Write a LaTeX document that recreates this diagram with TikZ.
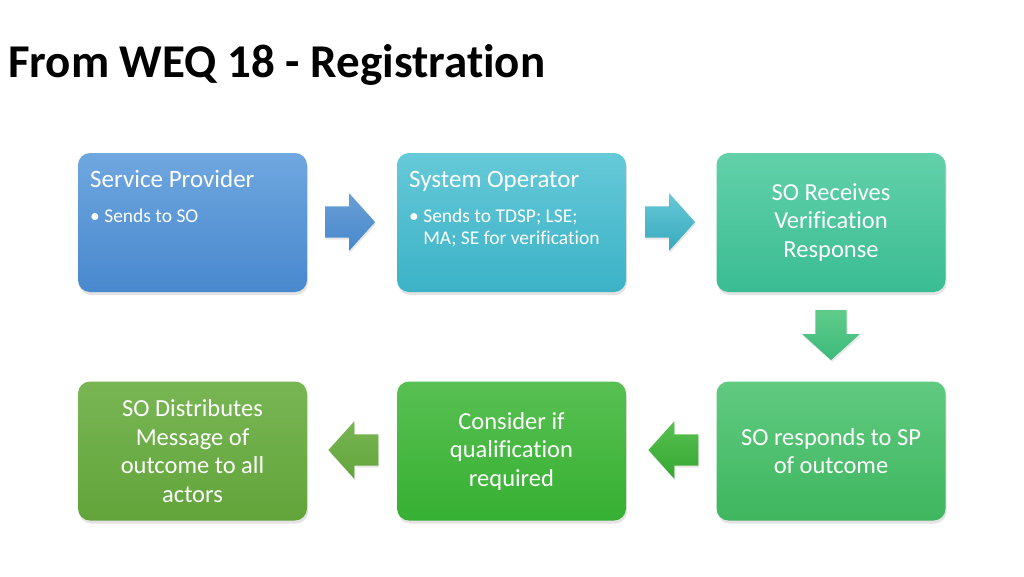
\documentclass[tikz,border=0pt]{standalone}
\usepackage{fontspec}
\setmainfont[Ligatures=NoCommon]{Carlito}
\usetikzlibrary{shapes.arrows, shadows}

\definecolor{spTop}{RGB}{111,167,223}
\definecolor{spBot}{RGB}{72,136,206}
\definecolor{soTop}{RGB}{101,201,216}
\definecolor{soBot}{RGB}{60,178,199}
\definecolor{rcTop}{RGB}{98,209,170}
\definecolor{rcBot}{RGB}{58,188,146}
\definecolor{rsTop}{RGB}{96,202,128}
\definecolor{rsBot}{RGB}{62,182,94}
\definecolor{qfTop}{RGB}{88,192,82}
\definecolor{qfBot}{RGB}{54,176,50}
\definecolor{dsTop}{RGB}{120,182,84}
\definecolor{dsBot}{RGB}{98,164,58}

\tikzstyle{card} = [rectangle, rounded corners=12pt, minimum width=229pt, minimum height=139pt, inner sep=0pt, drop shadow={shadow xshift=1pt, shadow yshift=-3pt, opacity=0.22}]
\tikzstyle{cardtext} = [text=white, align=center, inner sep=0pt, font=\fontsize{24.5}{28.5}\selectfont]
\tikzstyle{headtext} = [text=white, anchor=base west, inner sep=0pt, font=\fontsize{25}{28}\selectfont]
\tikzstyle{bullettext} = [text=white, anchor=base west, align=left, inner sep=0pt, font=\fontsize{19.5}{22}\selectfont]
\tikzstyle{flow} = [single arrow, single arrow head extend=13pt, single arrow tip angle=96, single arrow head indent=0pt, minimum height=50pt, inner xsep=0pt, inner ysep=15.5pt, drop shadow={shadow xshift=1pt, shadow yshift=-2pt, opacity=0.18}]

\begin{document}
\begin{tikzpicture}[x=1pt, y=-1pt]
    \fill[white] (0,0) rectangle (1024,576);
    \useasboundingbox (0,0) rectangle (1024,576);

    \node (title) [anchor=base west, inner sep=0pt, font=\fontsize{47}{55}\selectfont\bfseries] at (8,77) {From WEQ 18 - Registration};

    % top row
    \node (sp) [card, top color=spTop, bottom color=spBot] at (192.5,222.5) {};
    \node (so) [card, top color=soTop, bottom color=soBot] at (511.5,222.5) {};
    \node (recv) [card, top color=rcTop, bottom color=rcBot] at (831,222.5) {};
    % bottom row
    \node (resp) [card, top color=rsTop, bottom color=rsBot] at (831,451) {};
    \node (qual) [card, top color=qfTop, bottom color=qfBot] at (511.5,451) {};
    \node (dist) [card, top color=dsTop, bottom color=dsBot] at (192.5,451) {};

    \node (sp_head) [headtext] at (90,187) {Service Provider};
    \node (sp_item) [bullettext] at (90,222) {\textbullet\ Sends to SO};
    \node (so_head) [headtext] at (409,187) {System Operator};
    \node (so_item) [bullettext] at (409,244) {\textbullet\ Sends to TDSP; LSE;\\\phantom{\textbullet\ }MA; SE for verification};
    \node (recv_text) [cardtext] at (recv) {SO Receives\\Verification\\Response};
    \node (resp_text) [cardtext] at (resp) {SO responds to SP\\of outcome};
    \node (qual_text) [cardtext] at (qual) {Consider if\\qualification\\required};
    \node (dist_text) [cardtext] at (dist) {SO Distributes\\Message of\\outcome to all\\actors};

    % block arrows
    \node (a1) [flow, top color=spTop!95!black, bottom color=spBot] at (343,222) {};
    \node (a2) [flow, top color=soTop, bottom color=soBot!95!black] at (663,222) {};
    \node (a3) [flow, shape border rotate=270, inner xsep=15.5pt, inner ysep=0pt, top color=rsTop!80!rcTop, bottom color=rcBot!60!rsBot] at (831,328) {};
    \node (a4) [flow, shape border rotate=180, top color=qfTop, bottom color=qfBot!95!black] at (680.5,450) {};
    \node (a5) [flow, shape border rotate=180, top color=dsTop, bottom color=dsBot] at (360.5,450) {};
\end{tikzpicture}
\end{document}
